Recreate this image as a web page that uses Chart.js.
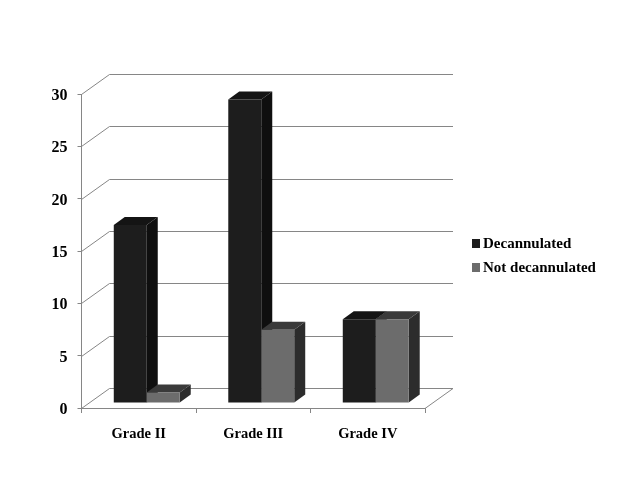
<!DOCTYPE html>
<html>
<head>
<meta charset="utf-8">
<style>
  html, body { margin: 0; padding: 0; background: #fff; }
  #wrap { position: relative; width: 640px; height: 480px; overflow: hidden; }
  #legend { position: absolute; left: 472px; top: 233px; font: bold 15px "Liberation Serif", serif; color: #000; }
  #legend div { height: 24px; line-height: 20px; white-space: nowrap; }
  #legend i { display: inline-block; width: 8px; height: 9px; margin-right: 3px; }
</style>
</head>
<body>
<div id="wrap">
  <canvas id="chart" width="640" height="480"></canvas>
  <div id="legend"></div>
</div>
<script src="https://cdn.jsdelivr.net/npm/chart.js@4/dist/chart.umd.min.js"></script>
<script>
const grades = ['Grade II', 'Grade III', 'Grade IV'];
const decannulated = [17, 29, 8];
const notDecannulated = [1, 7, 8];
const yTicks = [0, 5, 10, 15, 20, 25, 30];

const axisColor = '#868686';
const faces = {
    Decannulated: { front: '#1d1d1d', side: '#0f0f0f', top: '#141414' },
    'Not decannulated': { front: '#6c6c6c', side: '#2c2c2c', top: '#3a3a3a' }
};

// back wall: gridlines go up the side wall and then across
const wallX = 28, wallY = -20;
const wallPlugin = {
    id: 'wall',
    beforeDatasetsDraw(chart) {
        const { ctx, scales: { x, y } } = chart;
        ctx.save();
        ctx.strokeStyle = axisColor;
        ctx.lineWidth = 1;
        yTicks.forEach(v => {
            const py = Math.round(y.getPixelForValue(v)) + 0.5;
            ctx.beginPath();
            ctx.moveTo(x.left, py);
            ctx.lineTo(x.left + wallX, py + wallY);
            ctx.lineTo(x.right + wallX, py + wallY);
            ctx.stroke();
        });
        // right edge of the floor
        const py0 = Math.round(y.getPixelForValue(0)) + 0.5;
        ctx.beginPath();
        ctx.moveTo(x.right, py0);
        ctx.lineTo(x.right + wallX, py0 + wallY);
        ctx.stroke();
        ctx.restore();
    }
};

// bars stand a little inside the floor and get a top and a side face
const barShiftX = 8, barShiftY = -5, depthX = 11, depthY = -8;
const bars3dPlugin = {
    id: 'bars3d',
    // all side faces first, left series first, so the fronts can cover them
    beforeDatasetsDraw(chart) {
        const { ctx } = chart;
        ctx.save();
        ctx.translate(barShiftX, barShiftY);
        chart.data.datasets.forEach((ds, i) => {
            const colors = faces[ds.label];
            chart.getDatasetMeta(i).data.forEach(bar => {
                const l = bar.x - bar.width / 2, r = bar.x + bar.width / 2;
                const t = bar.y, b = bar.base;
                ctx.fillStyle = colors.side;
                ctx.beginPath();
                ctx.moveTo(r, t);
                ctx.lineTo(r + depthX, t + depthY);
                ctx.lineTo(r + depthX, b + depthY);
                ctx.lineTo(r, b);
                ctx.closePath();
                ctx.fill();
                ctx.fillStyle = colors.top;
                ctx.beginPath();
                ctx.moveTo(l, t);
                ctx.lineTo(l + depthX, t + depthY);
                ctx.lineTo(r + depthX, t + depthY);
                ctx.lineTo(r, t);
                ctx.closePath();
                ctx.fill();
            });
        });
        ctx.restore();
    },
    beforeDatasetDraw(chart) {
        chart.ctx.save();
        chart.ctx.translate(barShiftX, barShiftY);
    },
    afterDatasetDraw(chart) {
        chart.ctx.restore();
    }
};

new Chart(document.getElementById('chart').getContext('2d'), {
    type: 'bar',
    data: {
        labels: grades,
        datasets: [
            { label: 'Decannulated', data: decannulated, backgroundColor: faces.Decannulated.front },
            { label: 'Not decannulated', data: notDecannulated, backgroundColor: faces['Not decannulated'].front }
        ]
    },
    options: {
        responsive: false,
        animation: false,
        categoryPercentage: 0.576,
        barPercentage: 1,
        layout: { padding: { top: 94, right: 215, left: 0, bottom: 0 } },
        plugins: {
            legend: { display: false },
            tooltip: { enabled: false }
        },
        scales: {
            y: {
                min: 0,
                max: 30,
                afterBuildTicks(scale) { scale.ticks = yTicks.map(value => ({ value })); },
                afterFit(scale) { scale.width = 81.5; },
                border: { color: axisColor },
                grid: { drawOnChartArea: false, color: axisColor, tickLength: 4 },
                ticks: { color: '#000', padding: 10, labelOffset: 2, font: { family: '"Liberation Serif"', size: 16, weight: 'bold' } }
            },
            x: {
                afterFit(scale) { scale.height = 72; },
                border: { color: axisColor },
                grid: { drawOnChartArea: false, color: axisColor, tickLength: 5 },
                ticks: { color: '#000', padding: 13, maxRotation: 0, font: { family: '"Liberation Serif"', size: 14.5, weight: 'bold' } }
            }
        }
    },
    plugins: [wallPlugin, bars3dPlugin]
});

// legend
Object.keys(faces).forEach(name => {
    const row = document.createElement('div');
    const box = document.createElement('i');
    box.style.background = faces[name].front;
    row.appendChild(box);
    row.appendChild(document.createTextNode(name));
    document.getElementById('legend').appendChild(row);
});
</script>
</body>
</html>
